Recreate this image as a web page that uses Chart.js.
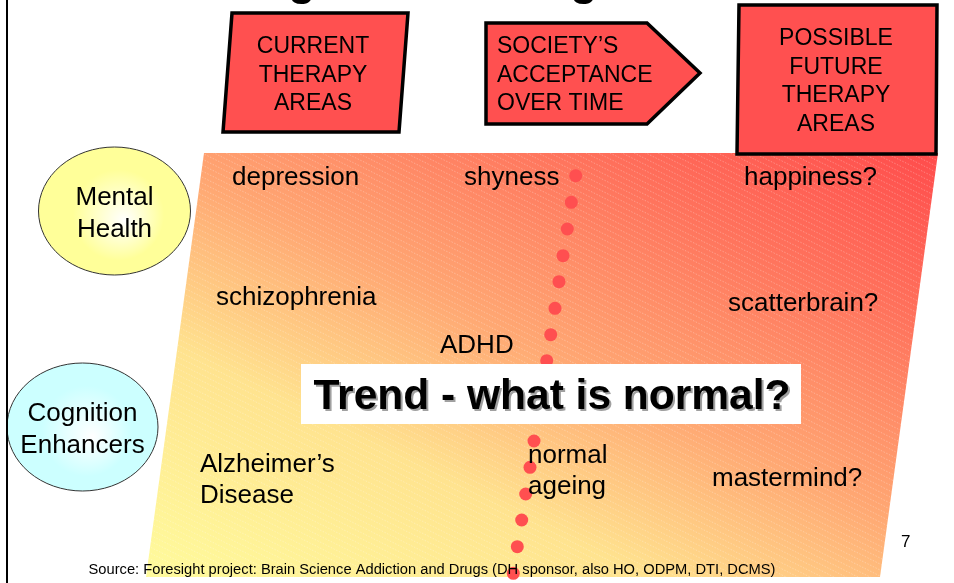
<!DOCTYPE html>
<html>
<head>
<meta charset="utf-8">
<script src="https://cdn.jsdelivr.net/npm/chart.js@4.4.1/dist/chart.umd.min.js"></script>
<style>
  html, body { margin: 0; padding: 0; background: #fff; }
  #slide { display: block; }
</style>
</head>
<body>
<canvas id="slide" width="954" height="583"></canvas>
<script>
const FONT = '"Liberation Sans", Arial, Helvetica, sans-serif';

// dotted "acceptance" line, in slide coordinates
const dotX = [575.7, 571.3, 567.3, 563, 559, 555, 550.7, 546.7, 542.5, 538.5, 534, 530, 525.7, 521.7, 517.3, 513.3];
const dotY = [175.7, 202.3, 229, 255.7, 281.7, 308.3, 334.7, 360.7, 387, 414, 441, 467.3, 494, 520, 546.7, 573.3];

// therapy labels inside the band
const labelText = ['depression', 'shyness', 'happiness?', 'schizophrenia', 'scatterbrain?', 'ADHD',
                   'Alzheimer\u2019s', 'Disease', 'normal', 'ageing', 'mastermind?'];
const labelX = [232, 464, 744, 216, 728, 440, 200, 200, 528, 528, 712];
const labelY = [185, 185, 185, 305, 311, 353, 472, 503, 463, 494, 486];

// column headers
const headerLines = [
  ['CURRENT', 'THERAPY', 'AREAS'],
  ['SOCIETY\u2019S', 'ACCEPTANCE', 'OVER TIME'],
  ['POSSIBLE', 'FUTURE', 'THERAPY', 'AREAS']
];

// row categories
const rowNames = [['Mental', 'Health'], ['Cognition', 'Enhancers']];

const trendText = 'Trend - what is normal?';
const sourceText = 'Source: Foresight project: Brain Science Addiction and Drugs (DH sponsor, also HO, ODPM, DTI, DCMS)';
const pageNumber = '7';

const dots = dotX.map((x, i) => ({ x: x, y: dotY[i] }));

function poly(ctx, pts) {
    ctx.beginPath();
    pts.forEach((p, i) => i ? ctx.lineTo(p[0], p[1]) : ctx.moveTo(p[0], p[1]));
    ctx.closePath();
}

const backdrop = {
    id: 'backdrop',
    beforeDatasetsDraw(chart) {
        const ctx = chart.ctx;
        const X = v => chart.scales.x.getPixelForValue(v);
        const Y = v => chart.scales.y.getPixelForValue(v);
        ctx.save();

        // cut-off title descenders
        ctx.fillStyle = '#000';
        ctx.font = 'bold 44px ' + FONT;
        ctx.textAlign = 'center';
        ctx.fillText('g', X(302), Y(-5.5));
        ctx.fillText('g', X(584), Y(-5.5));

        // band (parallelogram), gradient runs steeply from bottom-left to top-right
        const band = [[X(204), Y(153)], [X(938), Y(153)], [X(880), Y(577)], [X(146), Y(577)]];
        const g = ctx.createLinearGradient(X(146), Y(577), X(464), Y(-77));
        g.addColorStop(0, '#fffb9c');
        g.addColorStop(0.3, '#ffe38f');
        g.addColorStop(0.52, '#ffa873');
        g.addColorStop(0.78, '#ff725c');
        g.addColorStop(1, '#ff4c4c');
        poly(ctx, band);
        ctx.fillStyle = g;
        ctx.fill();

        // fine dotted hatching
        ctx.save();
        poly(ctx, band);
        ctx.clip();
        ctx.strokeStyle = 'rgba(255,255,255,0.28)';
        ctx.lineWidth = 1;
        ctx.setLineDash([1.5, 1.5]);
        for (let c = -600; c < 600; c += 6) {
            ctx.beginPath();
            ctx.moveTo(X(100), Y(150 + c));
            ctx.lineTo(X(1000), Y(150 + c + 450));
            ctx.stroke();
        }
        ctx.restore();

        // row ellipses
        const ell = [
            { cx: 114.5, cy: 211, rx: 76, ry: 64, edge: '#ffff99' },
            { cx: 82.5, cy: 427, rx: 75.5, ry: 64, edge: '#ccffff' }
        ];
        ell.forEach((e, i) => {
            const cx = X(e.cx), cy = Y(e.cy);
            const rg = ctx.createRadialGradient(cx + 10, cy + 10, 0, cx, cy, e.rx);
            rg.addColorStop(0, '#ffffff');
            rg.addColorStop(0.6, e.edge);
            rg.addColorStop(1, e.edge);
            ctx.beginPath();
            ctx.ellipse(cx, cy, e.rx, e.ry, 0, 0, Math.PI * 2);
            ctx.fillStyle = rg;
            ctx.fill();
            ctx.lineWidth = 1;
            ctx.strokeStyle = '#333';
            ctx.setLineDash([]);
            ctx.stroke();
            ctx.fillStyle = '#000';
            ctx.font = '26px ' + FONT;
            ctx.textAlign = 'center';
            ctx.fillText(rowNames[i][0], cx, cy - 6);
            ctx.fillText(rowNames[i][1], cx, cy + 26);
        });

        // left slide border
        ctx.fillStyle = '#000';
        ctx.fillRect(X(6), 0, 2, chart.height);
        ctx.restore();
    },
    afterDatasetsDraw(chart) {
        const ctx = chart.ctx;
        const X = v => chart.scales.x.getPixelForValue(v);
        const Y = v => chart.scales.y.getPixelForValue(v);
        ctx.save();

        // header shapes
        const shapes = [
            [[232, 13], [408, 13], [399, 132], [223, 132]],
            [[486, 23], [647, 23], [700, 73], [647, 124], [486, 124]],
            [[739, 5], [937, 5], [936, 154], [737, 154]]
        ];
        shapes.forEach(s => {
            poly(ctx, s.map(p => [X(p[0]), Y(p[1])]));
            ctx.fillStyle = '#ff5050';
            ctx.fill();
            ctx.lineWidth = 3.5;
            ctx.lineJoin = 'miter';
            ctx.strokeStyle = '#000';
            ctx.stroke();
        });
        ctx.fillStyle = '#000';
        ctx.font = '23px ' + FONT;
        const headPos = [
            { x: 313, y: 53, align: 'center' },
            { x: 497, y: 53, align: 'left' },
            { x: 836, y: 45, align: 'center' }
        ];
        headerLines.forEach((lines, i) => {
            ctx.textAlign = headPos[i].align;
            lines.forEach((t, j) => ctx.fillText(t, X(headPos[i].x), Y(headPos[i].y + j * 28.5)));
        });

        // labels
        ctx.font = '26px ' + FONT;
        ctx.textAlign = 'left';
        labelText.forEach((t, i) => ctx.fillText(t, X(labelX[i]), Y(labelY[i])));

        // trend box
        ctx.fillStyle = '#fff';
        ctx.fillRect(X(301), Y(364), X(801) - X(301), Y(424) - Y(364));
        ctx.font = 'bold 42.5px ' + FONT;
        ctx.textAlign = 'center';
        ctx.fillStyle = '#a0a0a0';
        ctx.fillText(trendText, X(554), Y(410.5));
        ctx.fillStyle = '#000';
        ctx.fillText(trendText, X(552), Y(408.5));

        // page number and source
        ctx.font = '17px ' + FONT;
        ctx.textAlign = 'left';
        ctx.fillText(pageNumber, X(901), Y(547));
        ctx.font = '14px ' + FONT;
        const w = ctx.measureText(sourceText).width;
        ctx.save();
        ctx.translate(X(88.5), Y(574));
        ctx.scale(687 / w, 1);
        ctx.fillText(sourceText, 0, 0);
        ctx.restore();

        ctx.restore();
    }
};

new Chart(document.getElementById('slide'), {
    type: 'scatter',
    data: {
        datasets: [{
            data: dots,
            pointRadius: 6.5,
            pointHoverRadius: 6.5,
            backgroundColor: '#ff4f50',
            borderWidth: 0,
            clip: false
        }]
    },
    options: {
        responsive: false,
        animation: false,
        events: [],
        layout: { padding: 0, autoPadding: false },
        plugins: { legend: { display: false }, tooltip: { enabled: false } },
        scales: {
            x: { type: 'linear', min: 0, max: 954, display: false },
            y: { type: 'linear', min: 0, max: 583, reverse: true, display: false }
        }
    },
    plugins: [backdrop]
});
</script>
</body>
</html>
